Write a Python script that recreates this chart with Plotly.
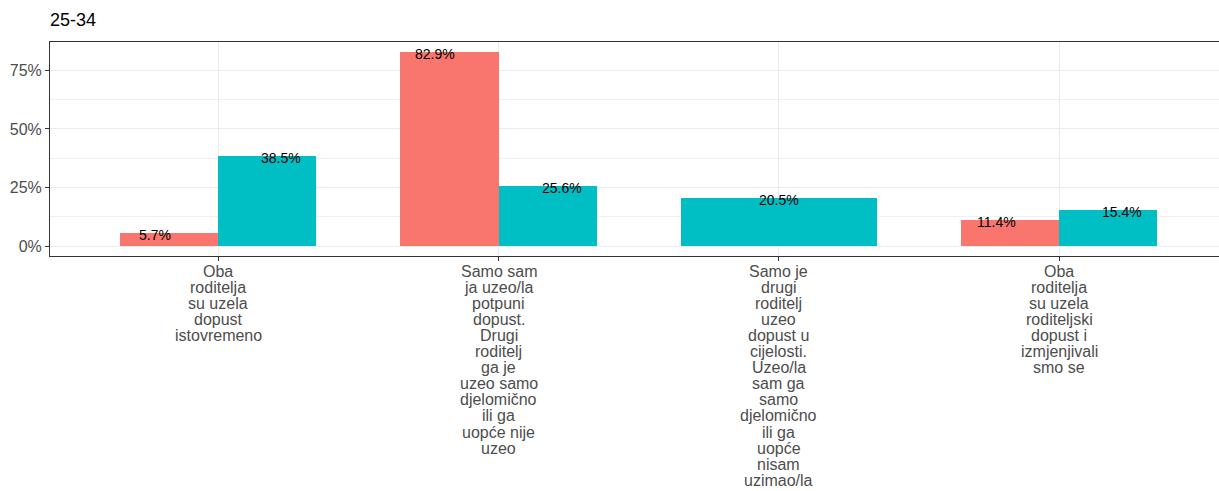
import plotly.graph_objects as go

# Answer categories, each split into lines for the axis labels
categories = [
    ["Oba", "roditelja", "su uzela", "dopust", "istovremeno"],
    ["Samo sam", "ja uzeo/la", "potpuni", "dopust.", "Drugi", "roditelj", "ga je",
     "uzeo samo", "djelomično", "ili ga", "uopće nije", "uzeo"],
    ["Samo je", "drugi", "roditelj", "uzeo", "dopust u", "cijelosti.", "Uzeo/la",
     "sam ga", "samo", "djelomično", "ili ga", "uopće", "nisam", "uzimao/la"],
    ["Oba", "roditelja", "su uzela", "roditeljski", "dopust i", "izmjenjivali", "smo se"],
]
group_a = [5.7, 82.9, None, 11.4]   # percent
group_b = [38.5, 25.6, 20.5, 15.4]  # percent
y_ticks = [0, 25, 50, 75]
y_tick_labels = [f"{v}%" for v in y_ticks]
title_text = "25-34"

RED = "#F8766D"
TEAL = "#00BFC4"
BAR_W = 0.7        # total dodge width of the bars
LABEL_DODGE = 0.9  # dodge width of the value labels

fig = go.Figure()
ann = []

for i, (a, b) in enumerate(zip(group_a, group_b), start=1):
    pairs = [(a, RED, "Skupina 1"), (b, TEAL, "Skupina 2")]
    present = [(v, c, n) for v, c, n in pairs if v is not None]
    k = len(present)
    for j, (v, c, n) in enumerate(present):
        w = BAR_W / k
        xc = i - BAR_W / 2 + w * (j + 0.5)
        lx = i - LABEL_DODGE / 2 + (LABEL_DODGE / k) * (j + 0.5)
        fig.add_trace(go.Bar(x=[xc], y=[v], width=[w], marker=dict(color=c, line=dict(width=0)),
                             name=n, showlegend=False, hoverinfo="skip"))
        ann.append(dict(x=lx, y=v, xref="x", yref="y", text=f"{v:.1f}%", showarrow=False,
                        xanchor="center", yanchor="middle", yshift=-2,
                        font=dict(size=14, color="#000000", family="Liberation Sans, Arial")))

# Wrapped category labels under the axis
LINE_H = 16.1
for i, lines in enumerate(categories, start=1):
    for k, line in enumerate(lines):
        ann.append(dict(x=i, y=0, xref="x", yref="paper", text=line, showarrow=False,
                        xanchor="center", yanchor="middle", yshift=-(15 + k * LINE_H),
                        font=dict(size=16, color="#4D4D4D", family="Liberation Sans, Arial")))

fig.update_layout(
    width=1219, height=491,
    margin=dict(l=50, r=0, t=42, b=235),
    paper_bgcolor="white", plot_bgcolor="white",
    barmode="overlay",
    bargap=0,
    showlegend=False,
    annotations=ann,
    title=dict(text=title_text, x=50 / 1219, xanchor="left", xref="container",
               y=1 - 20 / 491, yanchor="middle", yref="container",
               font=dict(size=18, color="#000000", family="Liberation Sans, Arial")),
    font=dict(family="Liberation Sans, Arial"),
)

fig.update_xaxes(
    range=[0.4, 4.57], tickvals=[1, 2, 3, 4], showticklabels=False,
    showgrid=True, gridcolor="#EBEBEB", gridwidth=1,
    ticks="outside", ticklen=4, tickcolor="#333333", tickwidth=1,
    showline=True, linecolor="#333333", linewidth=1, mirror=True,
    zeroline=False, fixedrange=True,
)
fig.update_yaxes(
    range=[-4.145, 87.045], tickvals=y_ticks, ticktext=y_tick_labels,
    tickfont=dict(size=16, color="#4D4D4D", family="Liberation Sans, Arial"),
    showgrid=True, gridcolor="#EBEBEB", gridwidth=1,
    minor=dict(tickvals=[12.5, 37.5, 62.5], showgrid=True, gridcolor="#F0F0F0", gridwidth=1, ticks=""),
    ticks="outside", ticklen=4, tickcolor="#333333", tickwidth=1,
    showline=True, linecolor="#333333", linewidth=1, mirror=False,
    zeroline=False, fixedrange=True,
)

fig.write_html("out.html")
